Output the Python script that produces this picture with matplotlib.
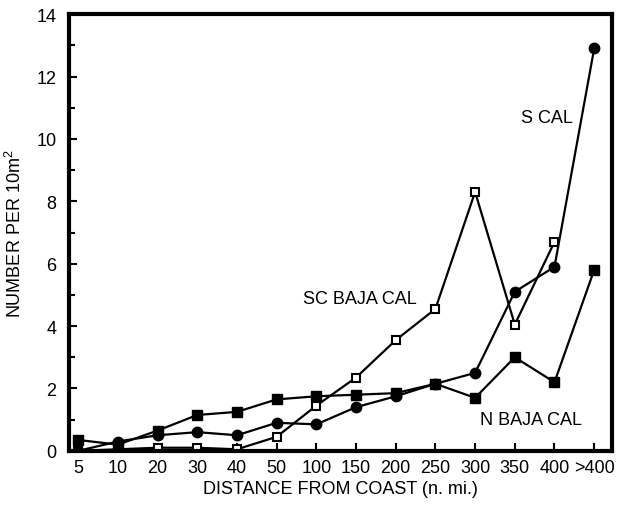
import matplotlib
matplotlib.use('Agg')
import matplotlib.pyplot as plt
from matplotlib.ticker import MultipleLocator

plt.rcParams['font.family'] = ['Liberation Sans', 'DejaVu Sans']

distances = ['5', '10', '20', '30', '40', '50', '100', '150', '200', '250', '300', '350', '400', '>400']

s_cal = [0.0, 0.3, 0.5, 0.6, 0.5, 0.9, 0.85, 1.4, 1.75, 2.15, 2.5, 5.1, 5.9, 12.9]
sc_baja = [0.0, 0.05, 0.1, 0.1, 0.05, 0.45, 1.45, 2.35, 3.55, 4.55, 8.3, 4.05, 6.7]
n_baja = [0.35, 0.2, 0.65, 1.15, 1.25, 1.65, 1.75, 1.8, 1.85, 2.15, 1.7, 3.0, 2.2, 5.8]

fig = plt.figure(figsize=(6.22, 5.06), dpi=100)
ax = fig.add_axes([0.111, 0.107, 0.873, 0.863])

x = list(range(len(distances)))
ax.plot(x[:len(sc_baja)], sc_baja, color='black', lw=1.6, marker='s', ms=6,
        mfc='white', mec='black', mew=1.5)
ax.plot(x, n_baja, color='black', lw=1.6, marker='s', ms=7, mfc='black', mec='black')
ax.plot(x, s_cal, color='black', lw=1.6, marker='o', ms=7.5, mfc='black', mec='black')

ax.text(11.8, 10.7, 'S CAL', fontsize=13, ha='center', va='center')
ax.text(7.1, 4.9, 'SC BAJA CAL', fontsize=13, ha='center', va='center')
ax.text(11.4, 1.0, 'N BAJA CAL', fontsize=13, ha='center', va='center')

ax.set_xlim(-0.23, 13.45)
ax.set_ylim(0, 14)
ax.set_xticks(x)
ax.set_xticklabels(distances)
ax.yaxis.set_major_locator(MultipleLocator(2))
ax.yaxis.set_minor_locator(MultipleLocator(1))
ax.tick_params(axis='both', direction='in', labelsize=13, width=1.5, length=6, pad=6)
ax.tick_params(axis='y', which='major', pad=9)
ax.tick_params(axis='y', which='minor', direction='in', width=1.5, length=4)

for sp in ax.spines.values():
    sp.set_linewidth(3)

ax.set_xlabel('DISTANCE FROM COAST (n. mi.)', fontsize=13, labelpad=3)
ax.set_ylabel('NUMBER PER 10m$^{\\mathregular{2}}$', fontsize=13, labelpad=8)

fig.savefig('out.png', dpi=100)
